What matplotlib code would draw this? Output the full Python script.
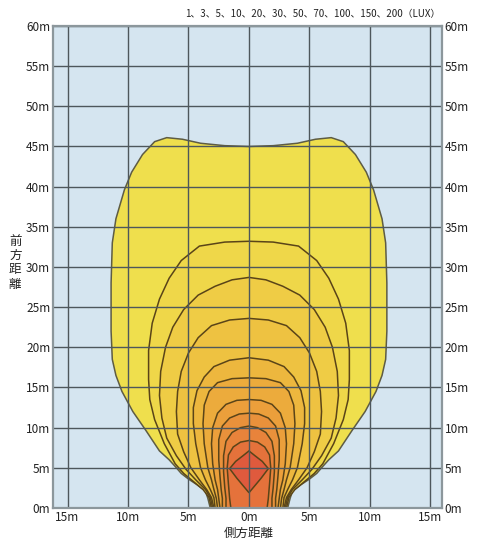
import matplotlib
matplotlib.use("Agg")
import matplotlib.pyplot as plt
import numpy as np

plt.rcParams['font.family'] = ['Noto Sans CJK JP', 'DejaVu Sans']

# isolux levels (lux), outer -> inner
levels = [1, 3, 5, 10, 20, 30, 50, 70, 100, 150, 200]

# right half of each isolux contour (half width m, forward m)
c1_w = [3.2, 3.4, 3.6, 4.3, 5.0, 5.6, 6.0, 6.6, 7.4, 8.5, 9.6, 10.5, 11.0, 11.3, 11.4,
        11.4, 11.3, 11.0, 10.3, 9.7, 8.8, 7.8, 6.8, 5.5, 4.0, 2.0, 0]
c1_y = [0, 1.2, 2.1, 2.9, 3.6, 4.3, 5.0, 6.0, 7.1, 9.6, 12.0, 14.5, 16.5, 18.5, 22,
        28, 33, 36, 39.6, 41.8, 44, 45.6, 46.1, 45.9, 45.4, 45.1, 45.0]
c2_w = [3.1, 3.3, 3.8, 4.6, 5.4, 6.1, 7.0, 7.8, 8.2, 8.3, 8.3, 8.0, 7.4, 6.6, 5.6, 4.1, 2.0, 0]
c2_y = [0, 1.3, 2.3, 3.3, 4.3, 5.5, 8.0, 11.0, 13.5, 16.0, 19.6, 23.0, 26.0, 28.6, 30.8, 32.6, 33.1, 33.2]
c3_w = [3.0, 3.2, 3.6, 4.4, 5.2, 6.0, 6.8, 7.2, 7.4, 7.3, 6.9, 6.3, 5.4, 4.2, 2.8, 1.4, 0]
c3_y = [0, 1.3, 2.3, 3.5, 4.8, 6.5, 8.7, 11.2, 14.0, 17.0, 20.0, 22.5, 24.7, 26.5, 27.6, 28.4, 28.7]
c4_w = [2.9, 3.1, 3.5, 4.1, 4.8, 5.4, 5.9, 6.0, 5.9, 5.6, 5.0, 4.2, 3.1, 1.6, 0]
c4_y = [0, 1.3, 2.3, 3.5, 5.0, 7.0, 9.2, 12.0, 14.5, 17.0, 19.3, 21.2, 22.7, 23.4, 23.6]
c5_w = [2.8, 2.9, 3.2, 3.6, 4.0, 4.4, 4.6, 4.6, 4.3, 3.7, 2.9, 1.6, 0]
c5_y = [0, 1.3, 2.3, 3.5, 5.0, 8.0, 10.5, 12.5, 14.6, 16.3, 17.6, 18.4, 18.7]
c6_w = [2.6, 2.7, 2.9, 3.1, 3.4, 3.7, 3.8, 3.7, 3.3, 2.6, 1.4, 0]
c6_y = [0, 1.2, 2.3, 3.5, 5.0, 8.0, 10.5, 12.8, 14.5, 15.6, 16.1, 16.2]
c7_w = [2.4, 2.5, 2.6, 2.8, 3.0, 3.1, 3.0, 2.6, 1.9, 1.0, 0]
c7_y = [0, 1.2, 2.3, 3.5, 5.5, 8.0, 10.0, 11.8, 12.9, 13.4, 13.5]
c8_w = [2.2, 2.2, 2.3, 2.4, 2.5, 2.5, 2.2, 1.6, 0.8, 0]
c8_y = [0, 1.2, 2.3, 4.0, 6.0, 8.5, 10.2, 11.2, 11.7, 11.8]
c9_w = [1.9, 1.9, 2.0, 2.1, 2.1, 1.9, 1.4, 0.7, 0]
c9_y = [0, 1.2, 2.5, 4.5, 6.5, 8.3, 9.4, 10.0, 10.2]
c10_w = [1.5, 1.6, 1.7, 1.8, 1.7, 1.3, 0.7, 0]
c10_y = [0, 1.2, 3.0, 5.0, 6.6, 7.6, 8.2, 8.4]
c11_w = [0, 0.5, 1.0, 1.6, 1.1, 0.5, 0]
c11_y = [1.9, 2.8, 3.7, 4.9, 5.8, 6.5, 7.1]

contours = [(c1_w, c1_y), (c2_w, c2_y), (c3_w, c3_y), (c4_w, c4_y), (c5_w, c5_y),
            (c6_w, c6_y), (c7_w, c7_y), (c8_w, c8_y), (c9_w, c9_y), (c10_w, c10_y),
            (c11_w, c11_y)]

fills = ['#efdf4d', '#efd749', '#efcc45', '#eec241', '#edb73e', '#ecab3c',
         '#eb9f3b', '#e9913b', '#e8833b', '#e5723b', '#df5a3d']

xticks = [-15, -10, -5, 0, 5, 10, 15]
xlabels = ['15m', '10m', '5m', '0m', '5m', '10m', '15m']
yticks = list(range(0, 61, 5))
ylabels = [f'{v}m' for v in yticks]

fig = plt.figure(figsize=(4.91, 5.40), dpi=100)
ax = fig.add_axes([0.108, 0.0593, 0.792, 0.8926])
ax.set_facecolor('#d5e5f0')

for (w, y), col in zip(contours, fills):
    w = np.array(w)
    y = np.array(y)
    xs = np.concatenate([w, -w[::-1]])
    ys = np.concatenate([y, y[::-1]])
    ec = '#5e5c44' if col == fills[0] else '#5a4418'
    ax.fill(xs, ys, facecolor=col, edgecolor=ec, linewidth=1.1, zorder=1)

ax.set_xlim(-16.2, 15.95)
ax.set_ylim(0, 60)
ax.set_xticks(xticks)
ax.set_xticklabels(xlabels)
ax.set_yticks(yticks)
ax.set_yticklabels(ylabels)
ax.tick_params(length=0, labelsize=8.5, pad=2, labelright=True, colors='#222222')
ax.set_axisbelow(False)
ax.grid(True, color='#4e575c', linewidth=1.0, zorder=2)
for s in ax.spines.values():
    s.set_color('#8c979c')
    s.set_linewidth(1.6)
    s.set_zorder(3)

# vertical y label, one character per line
for i, ch in enumerate('前方距離'):
    fig.text(0.031, 1 - (241 + i * 14.5) / 540, ch, ha='center', va='center',
             fontsize=9, color='#222222')
fig.text(0.507, 0.013, '側方距離', ha='center', va='center', fontsize=9, color='#222222')
fig.text(0.897, 0.974, '1、3、5、10、20、30、50、70、100、150、200（LUX）', ha='right',
         va='center', fontsize=7.0, color='#222222')

fig.savefig('out.png', dpi=100)
